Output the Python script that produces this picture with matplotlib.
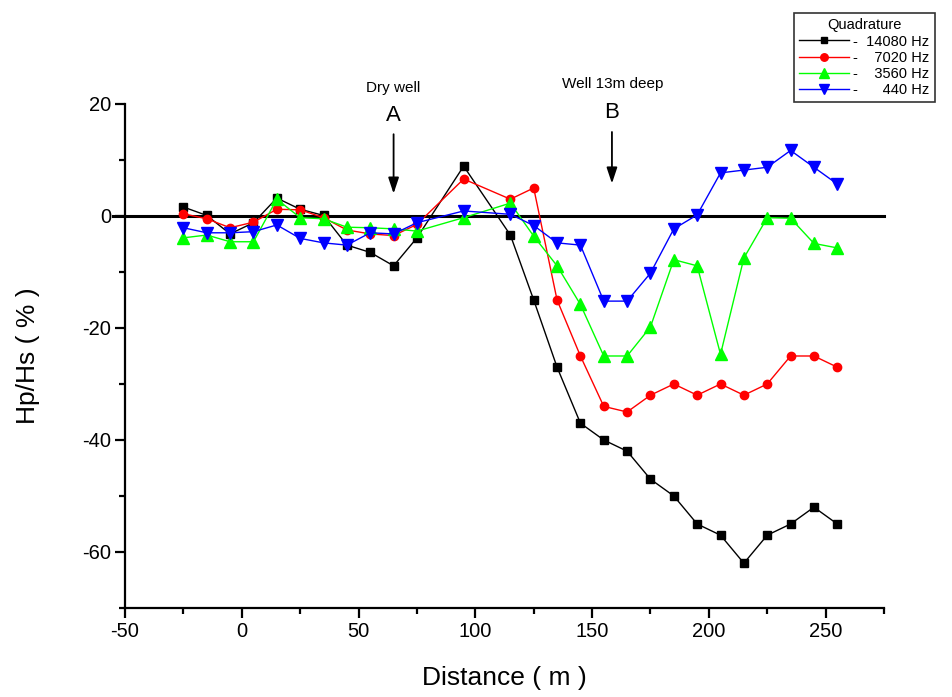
import matplotlib
matplotlib.use("Agg")
import matplotlib.pyplot as plt
from matplotlib.ticker import MultipleLocator

plt.rcParams["font.family"] = ["Liberation Sans", "DejaVu Sans"]
plt.rcParams["axes.unicode_minus"] = False

# distance along the profile (m)
distance = [-25, -15, -5, 5, 15, 25, 35, 45, 55, 65, 75, 95, 115, 125, 135,
            145, 155, 165, 175, 185, 195, 205, 215, 225, 235, 245, 255]

# Hp/Hs (%) per frequency, quadrature component
q_14080 = [1.6, 0.1, -3.2, -1.2, 3.2, 1.2, 0.1, -5.2, -6.5, -8.9, -3.9, 8.9, -3.4, -15,
           -27, -37, -40, -42, -47, -50, -55, -57, -62, -57, -55, -52, -55]
q_7020 = [0.4, -0.5, -2.1, -1.1, 1.2, 1.1, -0.3, -2.5, -3.2, -3.5, -1.5, 6.6, 3.0, 5.0,
          -15, -25, -34, -35, -32, -30, -32, -30, -32, -30, -25, -25, -27]
q_3560 = [-3.9, -3.4, -4.6, -4.6, 3.0, -0.3, -0.5, -2.0, -2.1, -2.3, -2.7, -0.3, 2.3, -3.6,
          -8.9, -15.8, -25, -25, -19.8, -7.8, -8.9, -24.7, -7.5, -0.3, -0.4, -4.9, -5.7]
q_440 = [-2.1, -3.0, -3.0, -2.8, -1.6, -4.0, -4.8, -5.2, -3.0, -3.2, -1.2, 0.9, 0.3, -1.7,
         -4.8, -5.2, -15.2, -15.2, -10.2, -2.3, 0.2, 7.7, 8.2, 8.7, 11.7, 8.7, 5.7]

labels = ["-  14080 Hz", "-    7020 Hz", "-    3560 Hz", "-      440 Hz"]

fig = plt.figure(figsize=(9.53, 6.97), dpi=100)
ax = fig.add_axes([0.1312, 0.1277, 0.7964, 0.7231])

ax.axhline(0, xmin=-0.016, xmax=1, color="black", lw=2.2, zorder=1.5, clip_on=False)

ax.plot(distance, q_14080, color="black", lw=1, marker="s", ms=5.5, label=labels[0])
ax.plot(distance, q_7020, color="#ff0000", lw=1, marker="o", ms=6, label=labels[1])
ax.plot(distance, q_3560, color="#00ff00", lw=1, marker="^", ms=8, label=labels[2])
ax.plot(distance, q_440, color="#0000ff", lw=1, marker="v", ms=8, label=labels[3])

ax.set_xlim(-50, 275)
ax.set_ylim(-70, 20)
ax.xaxis.set_major_locator(MultipleLocator(50))
ax.xaxis.set_minor_locator(MultipleLocator(25))
ax.yaxis.set_major_locator(MultipleLocator(20))
ax.yaxis.set_minor_locator(MultipleLocator(10))
for side in ("top", "right"):
    ax.spines[side].set_visible(False)
for side in ("left", "bottom"):
    ax.spines[side].set_linewidth(1.6)
ax.tick_params(which="major", direction="out", length=7, width=1.6, labelsize=14.5, pad=3)
ax.tick_params(which="minor", direction="out", length=4, width=1.6)

ax.set_xlabel("Distance ( m )", fontsize=19, labelpad=18)
ax.set_ylabel("Hp/Hs ( % )", fontsize=19, labelpad=30)

# well markers
ax.text(65, 22.9, "Dry well", ha="center", va="center", fontsize=11)
ax.text(65, 17.9, "A", ha="center", va="center", fontsize=16)
ax.annotate("", xy=(65, 4.0), xytext=(65, 14.6),
            arrowprops=dict(arrowstyle="-|>,head_length=0.6,head_width=0.2",
                            color="black", lw=1.3,
                            mutation_scale=16, shrinkA=0, shrinkB=0))
ax.text(159, 23.6, "Well 13m deep", ha="center", va="center", fontsize=11)
ax.text(158.5, 18.4, "B", ha="center", va="center", fontsize=16)
ax.annotate("", xy=(158.5, 5.8), xytext=(158.5, 15.0),
            arrowprops=dict(arrowstyle="-|>,head_length=0.6,head_width=0.2",
                            color="black", lw=1.3,
                            mutation_scale=16, shrinkA=0, shrinkB=0))
for t in ax.texts:
    t.set_clip_on(False)

leg = fig.legend(loc="upper right", bbox_to_anchor=(942 / 953, 1 - 6 / 697),
                 title="Quadrature", fontsize=10.5, title_fontsize=10.5,
                 frameon=True, fancybox=False, edgecolor="black",
                 handlelength=3.4, handletextpad=0.3, labelspacing=0.15,
                 borderpad=0.35, markerscale=0.9)
leg.get_frame().set_linewidth(1.2)
for t in leg.get_texts():
    t.set_ha("right")

fig.savefig("out.png", dpi=100)
